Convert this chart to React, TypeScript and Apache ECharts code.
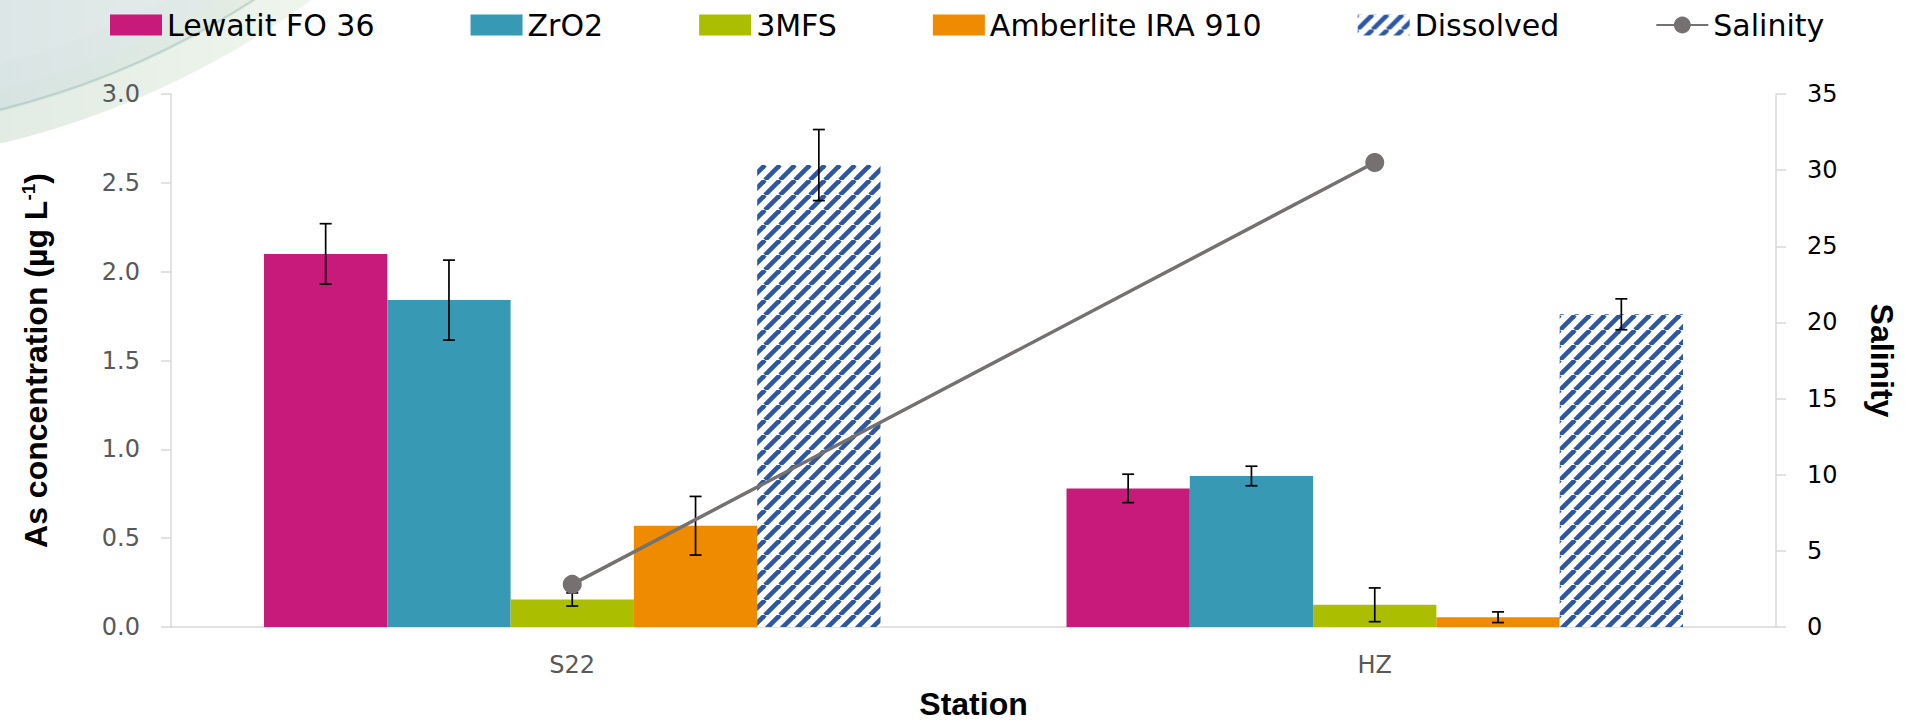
import React, { useEffect, useRef } from 'react';
import * as echarts from 'echarts';

// ---- data ----
const categories = ['S22', 'HZ'];
const barNames = ['Lewatit FO 36', 'ZrO2', '3MFS', 'Amberlite IRA 910', 'Dissolved'];
const lewatit = [2.10, 0.78];
const lewatitErr = [0.17, 0.08];
const zro2 = [1.84, 0.85];
const zro2Err = [0.225, 0.055];
const mfs = [0.155, 0.125];
const mfsErr = [0.037, 0.095];
const amberlite = [0.57, 0.055];
const amberliteErr = [0.165, 0.03];
const dissolved = [2.60, 1.76];
const dissolvedErr = [0.20, 0.087];
const salinity = [2.8, 30.5];

const leftAxisMin = 0, leftAxisMax = 3, leftAxisStep = 0.5;
const rightAxisMin = 0, rightAxisMax = 35, rightAxisStep = 5;

const barColors = ['#C71A7A', '#3899B5', '#ABBF00', '#EE8B00'];
const hatchColor = '#2E57A3';
const lineColor = '#767171';
const GAP = 0.2318;

function makeHatch() {
  const T = 15;
  const c = document.createElement('canvas');
  c.width = T; c.height = T;
  const ctx = c.getContext('2d')!;
  ctx.fillStyle = '#ffffff';
  ctx.fillRect(0, 0, T, T);
  ctx.strokeStyle = hatchColor;
  ctx.lineWidth = 4.6;
  for (let k = -1; k <= 1; k++) {
    ctx.beginPath();
    ctx.moveTo(k * T, T);
    ctx.lineTo(k * T + T, 0);
    ctx.stroke();
  }
  return { image: c, repeat: 'repeat', imageWidth: T, imageHeight: T } as any;
}

function grad(x2: number, a: string, b: string) {
  return new echarts.graphic.LinearGradient(0, 0, x2, 0, [
    { offset: 0, color: a },
    { offset: 1, color: b },
  ], true);
}

export default function App() {
  const ref = useRef<HTMLDivElement>(null);
  useEffect(() => {
    if (!ref.current) return;
    const chart = echarts.init(ref.current, undefined, { renderer: 'svg' });
    const values = [lewatit, zro2, mfs, amberlite, dissolved];
    const errs = [lewatitErr, zro2Err, mfsErr, amberliteErr, dissolvedErr];
    const hatch = makeHatch();
    const N = barNames.length;

    const barSeries = barNames.map((name, i) => ({
      name,
      type: 'bar',
      data: values[i],
      barGap: '0%',
      barCategoryGap: (GAP * 100).toFixed(2) + '%',
      itemStyle: { color: i < 4 ? barColors[i] : hatch },
      z: 2,
    }));

    const errData: number[][] = [];
    values.forEach((vals, si) => {
      vals.forEach((v, ci) => errData.push([ci, v, errs[si][ci], si]));
    });

    const tickFont = 'DejaVu Sans';
    const titleFont = 'Liberation Sans';
    const cx = -200, cy = -700;

    chart.setOption({
      animation: false,
      backgroundColor: '#ffffff',
      graphic: [
        { type: 'circle', silent: true, z: -10, shape: { cx, cy, r: 867 },
          style: { fill: grad(330, '#E2ECE4', '#F0F6EE') } },
        { type: 'circle', silent: true, z: -9, shape: { cx, cy, r: 836 },
          style: { fill: grad(280, '#D6E3E1', '#E4EEE4') } },
        { type: 'circle', silent: true, z: -8, shape: { cx, cy, r: 834 },
          style: { fill: 'none', stroke: 'rgba(150,185,175,0.45)', lineWidth: 2 } },
        { type: 'circle', silent: true, z: -7, shape: { cx, cy, r: 815 },
          style: { fill: grad(240, '#D9E4E4', '#E2EBE8') } },
        { type: 'circle', silent: true, z: -6, shape: { cx, cy, r: 790 },
          style: { fill: grad(200, '#DCE6E6', '#E3ECEA') } },
      ],
      legend: {
        left: 110,
        top: 10,
        padding: 0,
        itemGap: 96,
        itemWidth: 52,
        itemHeight: 21,
        textStyle: { fontFamily: tickFont, fontSize: 30, color: '#000000' },
        data: [
          ...barNames.map((n) => ({ name: n, icon: 'rect' })),
          { name: 'Salinity' },
        ],
      },
      grid: { left: 171, right: 138, top: 94, bottom: 89, containLabel: false },
      xAxis: {
        type: 'category',
        data: categories,
        axisLine: { lineStyle: { color: '#D9D9D9', width: 1.5 } },
        axisTick: { show: false },
        axisLabel: { color: '#595959', fontFamily: tickFont, fontSize: 24, margin: 26 },
        name: 'Station',
        nameLocation: 'middle',
        nameGap: 61,
        nameTextStyle: { fontFamily: titleFont, fontWeight: 'bold', fontSize: 32, color: '#000000' },
      },
      yAxis: [
        {
          type: 'value',
          min: leftAxisMin, max: leftAxisMax, interval: leftAxisStep,
          axisLine: { show: true, lineStyle: { color: '#D9D9D9', width: 1.5 } },
          axisTick: { show: true, length: 10, lineStyle: { color: '#D9D9D9', width: 1.5 } },
          splitLine: { show: false },
          axisLabel: {
            color: '#595959', fontFamily: tickFont, fontSize: 24, margin: 31,
            formatter: (v: number) => v.toFixed(1),
          },
          name: 'As concentration (µg L{sup|-1})',
          nameLocation: 'middle',
          nameRotate: 90,
          nameGap: 119,
          nameTextStyle: {
            fontFamily: titleFont, fontWeight: 'bold', fontSize: 32, color: '#000000',
            rich: {
              sup: {
                fontFamily: titleFont, fontWeight: 'bold', fontSize: 19, color: '#000000',
                verticalAlign: 'bottom', padding: [0, 0, 14, 0],
              },
            },
          },
        },
        {
          type: 'value',
          position: 'right',
          min: rightAxisMin, max: rightAxisMax, interval: rightAxisStep,
          axisLine: { show: true, lineStyle: { color: '#D9D9D9', width: 1.5 } },
          axisTick: { show: true, length: 10, lineStyle: { color: '#D9D9D9', width: 1.5 } },
          splitLine: { show: false },
          axisLabel: { color: '#000000', fontFamily: tickFont, fontSize: 24, margin: 31 },
          name: 'Salinity',
          nameLocation: 'middle',
          nameRotate: -90,
          nameGap: 90,
          nameTextStyle: { fontFamily: titleFont, fontWeight: 'bold', fontSize: 32, color: '#000000' },
        },
      ],
      series: [
        ...barSeries,
        {
          name: 'errors',
          type: 'custom',
          z: 5,
          silent: true,
          data: errData,
          encode: { x: 0, y: 1 },
          renderItem: (params: any, api: any) => {
            const ci = api.value(0);
            const v = api.value(1);
            const e = api.value(2);
            const si = api.value(3);
            const band = api.size([1, 0])[0];
            const bw = (band * (1 - GAP)) / N;
            const x = api.coord([ci, 0])[0] + (si - (N - 1) / 2) * bw;
            const yTop = api.coord([ci, v + e])[1];
            const yBot = api.coord([ci, v - e])[1];
            const cap = 6;
            const st = { stroke: '#000000', lineWidth: 1.7 };
            return {
              type: 'group',
              children: [
                { type: 'line', shape: { x1: x, y1: yTop, x2: x, y2: yBot }, style: st },
                { type: 'line', shape: { x1: x - cap, y1: yTop, x2: x + cap, y2: yTop }, style: st },
                { type: 'line', shape: { x1: x - cap, y1: yBot, x2: x + cap, y2: yBot }, style: st },
              ],
            };
          },
        },
        {
          name: 'Salinity',
          type: 'line',
          yAxisIndex: 1,
          data: salinity,
          z: 6,
          symbol: 'circle',
          symbolSize: 19,
          lineStyle: { color: lineColor, width: 3.5 },
          itemStyle: { color: lineColor },
        },
      ],
    });
    return () => chart.dispose();
  }, []);
  return (
    <div
      ref={ref}
      style={{ position: 'fixed', left: 0, top: 0, width: 1914, height: 725 }}
    />
  );
}
